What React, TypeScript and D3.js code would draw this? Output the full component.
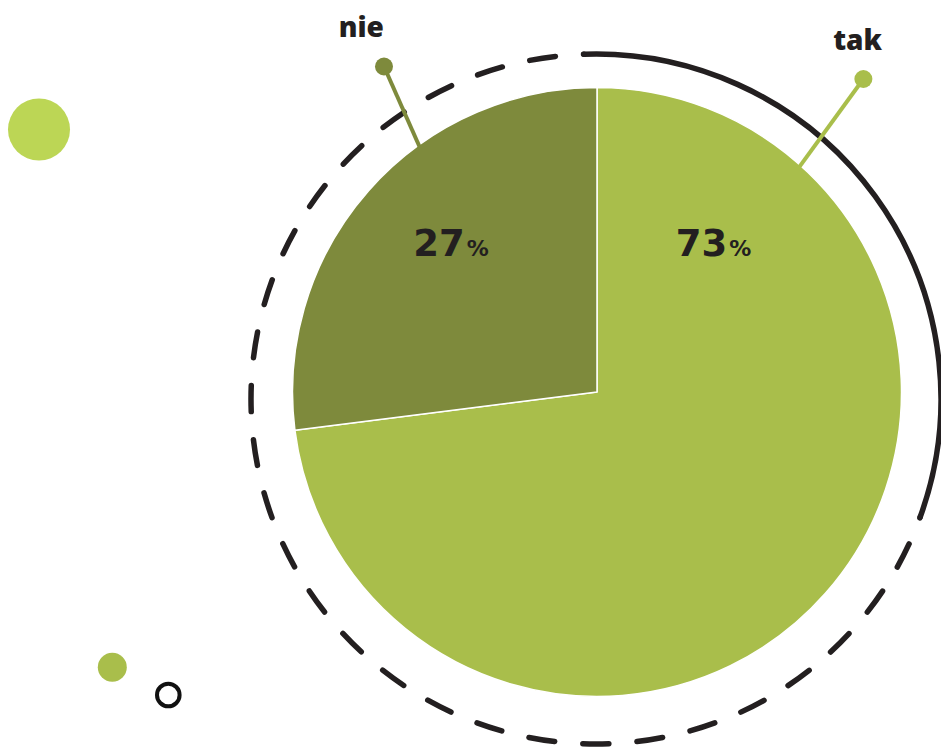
import React from "react";
import * as d3 from "d3";

const categories = ["tak", "nie"];
const values = [73, 27];
const sliceColors = ["#a9be4b", "#7e8a3c"];
// label anchors in polar coords relative to pie centre (deg clockwise from top, radius)
const pctLabelPos = [
  { a: 40.6, r: 179 },
  { a: -47.0, r: 199.5 },
];
const leaderPos = [
  { a0: 42, r0: 300, a1: 40.4, r1: 411, la: 37.3, lr: 430 },
  { a0: -36, r0: 300, a1: -33.2, r1: 389, la: -33.6, lr: 426 },
];

const W = 941;
const H = 747;
const cx = 597;
const cy = 392;
const R = 304.5;
const ringCx = 596;
const ringCy = 399;
const ringR = 345;
const dark = "#231f20";

const rad = (d: number) => (d * Math.PI) / 180;
const polar = (x0: number, y0: number, aDeg: number, r: number): [number, number] => [
  x0 + r * Math.sin(rad(aDeg)),
  y0 - r * Math.cos(rad(aDeg)),
];

function arcPath(a0: number, a1: number) {
  const p = d3.path();
  const [sx, sy] = polar(ringCx, ringCy, a0, ringR);
  p.moveTo(sx, sy);
  p.arc(ringCx, ringCy, ringR, rad(a0 - 90), rad(a1 - 90), false);
  return p.toString();
}

export default function App() {
  const pie = d3.pie<number>().sort(null).value((d) => d)(values);
  const arc = d3.arc<d3.PieArcDatum<number>>().innerRadius(0).outerRadius(R);

  const solidStart = -2;
  const solidEnd = 110;
  const dashEnd = 358;
  const period = (2 * Math.PI * ringR) / 40;
  const dashLen = 26;
  const s0 = ringR * rad(solidEnd);
  const dashOffset = dashLen / 2 + s0;

  return (
    <svg width={W} height={H} style={{ position: "absolute", left: 0, top: 0, background: "#fff" }}>
      {/* decorative dots */}
      <circle cx={39} cy={129.5} r={31} fill="#bcd655" />
      <circle cx={112.3} cy={667.3} r={14.5} fill="#a9be4b" />
      <circle cx={168.3} cy={695} r={11.3} fill="none" stroke="#111" strokeWidth={4} />

      {/* outer ring */}
      <path d={arcPath(solidStart, solidEnd)} fill="none" stroke={dark} strokeWidth={5.5} strokeLinecap="round" />
      <path
        d={arcPath(solidEnd, dashEnd)}
        fill="none"
        stroke={dark}
        strokeWidth={5.5}
        strokeLinecap="round"
        strokeDasharray={`${dashLen} ${period - dashLen}`}
        strokeDashoffset={dashOffset}
      />

      {/* pie */}
      <g transform={`translate(${cx},${cy})`}>
        {pie.map((d, i) => (
          <path key={categories[i]} d={arc(d) || ""} fill={sliceColors[i]} stroke="#fff" strokeWidth={1.5} strokeLinejoin="round" />
        ))}
      </g>

      {/* leaders */}
      {leaderPos.map((l, i) => {
        const [x0, y0] = polar(cx, cy, l.a0, l.r0);
        const [x1, y1] = polar(cx, cy, l.a1, l.r1);
        const [lx, ly] = polar(cx, cy, l.la, l.lr);
        return (
          <g key={"lead" + i}>
            <line x1={x0} y1={y0} x2={x1} y2={y1} stroke={sliceColors[i]} strokeWidth={4} />
            <circle cx={x1} cy={y1} r={9} fill={sliceColors[i]} />
            <text
              x={lx}
              y={ly}
              textAnchor="middle"
              fontFamily="'Open Sans', sans-serif"
              fontWeight={800}
              fontSize={28}
              fill={dark}
            >
              {categories[i]}
            </text>
          </g>
        );
      })}

      {/* percent labels */}
      {pctLabelPos.map((p, i) => {
        const [x, y] = polar(cx, cy, p.a, p.r);
        return (
          <text key={"pct" + i} x={x} y={y} textAnchor="middle" fontFamily="'DejaVu Sans', sans-serif" fontWeight={700} fill={dark}>
            <tspan fontSize={37}>{values[i]}</tspan>
            <tspan fontSize={22} dx={2}>%</tspan>
          </text>
        );
      })}
    </svg>
  );
}
